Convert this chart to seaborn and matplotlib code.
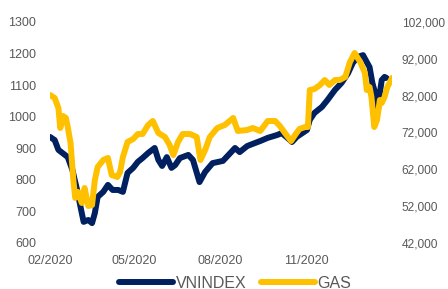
import pandas as pd
import matplotlib
matplotlib.use("Agg")
import matplotlib.pyplot as plt
import matplotlib.dates as mdates
import seaborn as sns

# VNINDEX (trục trái)
vn_dates = ["2020-02-01", "2020-02-06", "2020-02-10", "2020-02-17", "2020-02-20", "2020-02-25",
            "2020-03-01", "2020-03-06", "2020-03-08", "2020-03-13", "2020-03-17", "2020-03-20",
            "2020-03-23", "2020-03-29", "2020-04-03", "2020-04-08", "2020-04-14", "2020-04-19",
            "2020-04-24", "2020-04-30", "2020-05-05", "2020-05-10", "2020-05-16", "2020-05-23",
            "2020-05-27", "2020-05-31", "2020-06-05", "2020-06-10", "2020-06-14", "2020-06-19",
            "2020-06-28", "2020-07-03", "2020-07-10", "2020-07-16", "2020-07-24", "2020-08-04",
            "2020-08-12", "2020-08-17", "2020-08-22", "2020-08-30", "2020-09-05", "2020-09-13",
            "2020-09-21", "2020-10-01", "2020-10-06", "2020-10-11", "2020-10-17", "2020-10-22",
            "2020-10-28", "2020-11-02", "2020-11-05", "2020-11-10", "2020-11-18", "2020-11-24",
            "2020-12-02", "2020-12-09", "2020-12-16", "2020-12-21", "2020-12-26", "2021-01-01",
            "2021-01-05", "2021-01-08", "2021-01-11", "2021-01-16", "2021-01-17", "2021-01-19",
            "2021-01-21", "2021-01-24", "2021-01-26"]
vn_values = [936, 926, 895, 879, 872, 831,
             768, 695, 667, 673, 663, 695,
             746, 762, 784, 768, 768, 762,
             822, 838, 857, 869, 885, 901,
             863, 844, 872, 838, 847, 869,
             879, 863, 793, 825, 853, 860,
             885, 901, 888, 907, 914, 923,
             933, 942, 948, 936, 920, 936,
             948, 958, 990, 1012, 1031, 1053,
             1085, 1107, 1138, 1170, 1189, 1195,
             1173, 1157, 1107, 1053, 1021, 1075,
             1116, 1126, 1123]

# GAS (trục phải)
gas_dates = ["2020-02-01", "2020-02-06", "2020-02-10", "2020-02-12", "2020-02-15", "2020-02-18",
             "2020-02-20", "2020-02-23", "2020-02-26", "2020-02-28", "2020-03-02", "2020-03-06",
             "2020-03-09", "2020-03-13", "2020-03-17", "2020-03-20", "2020-03-23", "2020-03-29",
             "2020-04-03", "2020-04-07", "2020-04-13", "2020-04-16", "2020-04-19", "2020-04-24",
             "2020-04-30", "2020-05-05", "2020-05-10", "2020-05-16", "2020-05-21", "2020-05-27",
             "2020-06-03", "2020-06-08", "2020-06-12", "2020-06-17", "2020-06-22", "2020-06-30",
             "2020-07-07", "2020-07-11", "2020-07-16", "2020-07-21", "2020-07-29", "2020-08-06",
             "2020-08-15", "2020-08-20", "2020-08-30", "2020-09-05", "2020-09-13", "2020-09-21",
             "2020-09-29", "2020-10-04", "2020-10-11", "2020-10-16", "2020-10-21", "2020-10-25",
             "2020-10-31", "2020-11-03", "2020-11-05", "2020-11-10", "2020-11-16", "2020-11-21",
             "2020-11-26", "2020-12-02", "2020-12-07", "2020-12-13", "2020-12-18", "2020-12-23",
             "2020-12-29", "2021-01-03", "2021-01-05", "2021-01-08", "2021-01-10", "2021-01-13",
             "2021-01-16", "2021-01-19", "2021-01-21", "2021-01-24", "2021-01-27", "2021-02-01"]
gas_values = [82180, 81370, 78650, 73220, 76480, 75940,
              73490, 69150, 59100, 54220, 55850, 52860,
              56930, 52040, 52310, 59100, 62630, 64530,
              65080, 60460, 59920, 61280, 65350, 69420,
              70230, 71590, 71590, 74030, 75120, 71860,
              70780, 68610, 65890, 69420, 71590, 71590,
              70780, 64530, 67250, 70780, 73220, 74030,
              75940, 72410, 72680, 73220, 72410, 75120,
              75120, 73760, 71320, 69690, 71590, 72950,
              73490, 73490, 83540, 83810, 84900, 86250,
              84900, 86250, 86250, 87070, 91140, 93580,
              91140, 88150, 83540, 84350, 81640, 73490,
              75390, 80820, 80000, 81640, 84350, 86800]

left_ticks = [600, 700, 800, 900, 1000, 1100, 1200, 1300]
right_ticks = [42000, 52000, 62000, 72000, 82000, 92000, 102000]
x_ticks = ["2020-02-01", "2020-05-01", "2020-08-01", "2020-11-01"]

navy = "#002060"
gold = "#FFC000"
grey = "#595959"

df_vn = pd.DataFrame({"Date": pd.to_datetime(vn_dates), "VNINDEX": vn_values})
df_gas = pd.DataFrame({"Date": pd.to_datetime(gas_dates), "GAS": gas_values})

sns.set_style("white")
plt.rcParams["font.family"] = ["Liberation Sans", "DejaVu Sans"]

fig = plt.figure(figsize=(4.48, 2.89), dpi=100)
ax = fig.add_axes([50 / 448, 1 - 243 / 289, (392 - 50) / 448, (243 - 22) / 289])
ax2 = ax.twinx()

sns.lineplot(data=df_vn, x="Date", y="VNINDEX", ax=ax, color=navy, linewidth=4.3,
             label="VNINDEX", legend=False)
sns.lineplot(data=df_gas, x="Date", y="GAS", ax=ax2, color=gold, linewidth=4.3,
             label="GAS", legend=False)

ax.set_ylim(600, 1300)
ax2.set_ylim(42000, 102000)
ax.set_yticks(left_ticks)
ax2.set_yticks(right_ticks)
ax2.set_yticklabels([f"{v:,}" for v in right_ticks])
ax.set_xlim(pd.Timestamp("2020-02-01"), pd.Timestamp("2021-02-01"))
ax.set_xticks(pd.to_datetime(x_ticks))
ax.xaxis.set_major_formatter(mdates.DateFormatter("%m/%Y"))

for a in (ax, ax2):
    a.set_xlabel("")
    a.set_ylabel("")
    a.grid(False)
    for s in a.spines.values():
        s.set_visible(False)
    a.tick_params(length=0, labelsize=9, colors=grey)
ax.tick_params(axis="y", pad=10)
ax2.tick_params(axis="y", pad=7, labelsize=8.6)
ax.tick_params(axis="x", pad=9)

h1, l1 = ax.get_legend_handles_labels()
h2, l2 = ax2.get_legend_handles_labels()
fig.legend(h1 + h2, l1 + l2, loc="center", bbox_to_anchor=(0.525, 1 - 283 / 289), ncol=2,
           frameon=False, fontsize=11.5, handlelength=3.4, handletextpad=0.15,
           columnspacing=0.9, labelcolor=grey, borderpad=0)

fig.savefig("out.png", dpi=100)
